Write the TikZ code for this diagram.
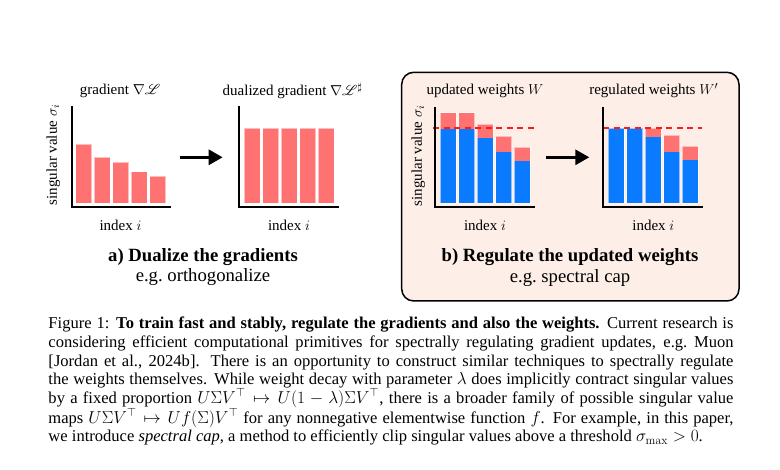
\documentclass[tikz,border=0pt]{standalone}
\IfFileExists{mathrsfs.sty}{\usepackage{mathrsfs}}{\newcommand\mathscr{\mathcal}}
\usepackage[no-math]{fontspec}
\setmainfont{Liberation Serif}
\usetikzlibrary{arrows.meta}
\definecolor{barred}{RGB}{255,114,114}
\definecolor{barblue}{RGB}{10,122,255}
\definecolor{capred}{RGB}{255,25,25}
\definecolor{peach}{RGB}{253,238,232}
\begin{document}
\begin{tikzpicture}[x=1pt,y=-1pt,
  lab/.style={font=\fontsize{15}{18}\selectfont, inner sep=0pt},
  ttl/.style={font=\fontsize{18.7}{22}\selectfont\bfseries, inner sep=0pt},
  sub/.style={font=\fontsize{18.7}{22}\selectfont, inner sep=0pt},
  axis/.style={line width=2.3pt, line join=miter},
  bigarrow/.style={line width=3pt, -{Triangle[length=14pt,width=15pt]}},
  capline/.style={draw=capred, line width=2.3pt, dash pattern=on 6pt off 4.5pt},
  barline/.style={draw=white, draw opacity=0.55, line width=0.7pt}]
\path[use as bounding box] (0,0) rectangle (780,470);

% ---------- panel b background ----------
\draw[fill=peach, line width=1.5pt, rounded corners=12pt] (401.7,72.3) rectangle (739,301);

% ---------- chart 1: gradient ----------
\foreach \x/\t in {75.7/144.3, 94.2/157.3, 112.7/162, 131.2/171.7, 149.7/176.3}{
  \fill[barred] (\x,203.3) rectangle ++(16,\t-203.3);
  \draw[barline] (\x,203.3) rectangle ++(16,\t-203.3);
}
\draw[axis] (71.7,106) -- (71.7,207.3) -- (170.7,207.3);

% ---------- chart 2: dualized gradient ----------
\foreach \x in {244, 262.5, 281, 299.5, 318}{
  \fill[barred] (\x,203.3) rectangle ++(16,128-203.3);
  \draw[barline] (\x,203.3) rectangle ++(16,128-203.3);
}
\draw[axis] (239.3,105.7) -- (239.3,207.3) -- (339,207.3);

% ---------- chart 3: updated weights ----------
\foreach \x/\r/\b in {440/112.7/129, 458.5/112.7/129, 477/124/137.7, 495.5/136/152, 514/147/160.7}{
  \fill[barred] (\x,203.3) rectangle ++(16,\r-203.3);
  \fill[barblue] (\x,203.3) rectangle ++(16,\b-203.3);
  \draw[barline] (\x,203.3) rectangle ++(16,\r-203.3);
}
\draw[capline] (433,128) -- (535,128);
\draw[axis] (435,106.7) -- (435,207.3) -- (535,207.3);

% ---------- chart 4: regulated weights ----------
\foreach \x/\r/\b in {608.3/128/128, 626.8/128/128, 645.3/128/137.3, 663.8/135.3/151.7, 682.3/146.3/160}{
  \fill[barred] (\x,203.3) rectangle ++(16,\r-203.3);
  \fill[barblue] (\x,203.3) rectangle ++(16,\b-203.3);
  \draw[barline] (\x,203.3) rectangle ++(16,\r-203.3);
}
\draw[capline] (603,128) -- (701.7,128);
\draw[axis] (603.3,106.7) -- (603.3,207.3) -- (703,207.3);

% ---------- arrows ----------
\coordinate (aS) at (180,157.3);
\coordinate (aE) at (222.7,157.3);
\coordinate (bS) at (546,157.3);
\coordinate (bE) at (589.3,157.3);
\draw[bigarrow] (aS) -- (aE);
\draw[bigarrow] (bS) -- (bE);

% ---------- labels ----------
\node[lab] (t1) at (120,90.7) {gradient $\nabla\mathscr{L}$};
\node[lab] (t2) at (292.5,90.7) {dualized gradient $\nabla\mathscr{L}^\sharp$};
\node[lab, rotate=90] (y1) at (53.3,155) {singular value $\sigma_i$};
\node[lab] (x1) at (120.5,225) {index $i$};
\node[lab] (x2) at (289,225) {index $i$};
\node[ttl] (ha) at (203,256.7) {a) Dualize the gradients};
\node[sub] (sa) at (203,276.7) {e.g.\ orthogonalize};

\node[lab] (t3) at (485,90.7) {updated weights $W$};
\node[lab] (t4) at (653.7,90.7) {regulated weights $W'$};
\node[lab, rotate=90] (y3) at (418.3,156) {singular value $\sigma_i$};
\node[lab] (x3) at (485,225) {index $i$};
\node[lab] (x4) at (653.3,225) {index $i$};
\node[ttl] (hb) at (570,257.3) {b) Regulate the updated weights};
\node[sub] (sb) at (570,278.3) {e.g.\ spectral cap};

% ---------- caption ----------
\node[anchor=north west, inner sep=0pt, text width=685pt, align=justify,
      font=\fontsize{16.55}{18.6}\selectfont] (cap) at (48.3,317) {\lineskiplimit=-20pt\relax\lineskip=0pt\relax Figure 1: \textbf{To train fast and stably, regulate the gradients and also the weights.} Current research is\linebreak
considering efficient computational primitives for spectrally regulating gradient updates, e.g.\ Muon\linebreak
{[}Jordan et al., 2024b]. There is an opportunity to construct similar techniques to spectrally regulate\linebreak
the weights themselves. While weight decay with parameter $\lambda$ does implicitly contract singular values\linebreak
by a fixed proportion $U\Sigma V^\top \mapsto U(1-\lambda)\Sigma V^\top$, there is a broader family of possible singular value\linebreak
maps $U\Sigma V^\top \mapsto Uf(\Sigma)V^\top$ for any nonnegative elementwise function $f$. For example, in this paper,\linebreak
we introduce \emph{spectral cap}, a method to efficiently clip singular values above a threshold $\sigma_{\max} > 0$.};
\end{tikzpicture}
\end{document}
